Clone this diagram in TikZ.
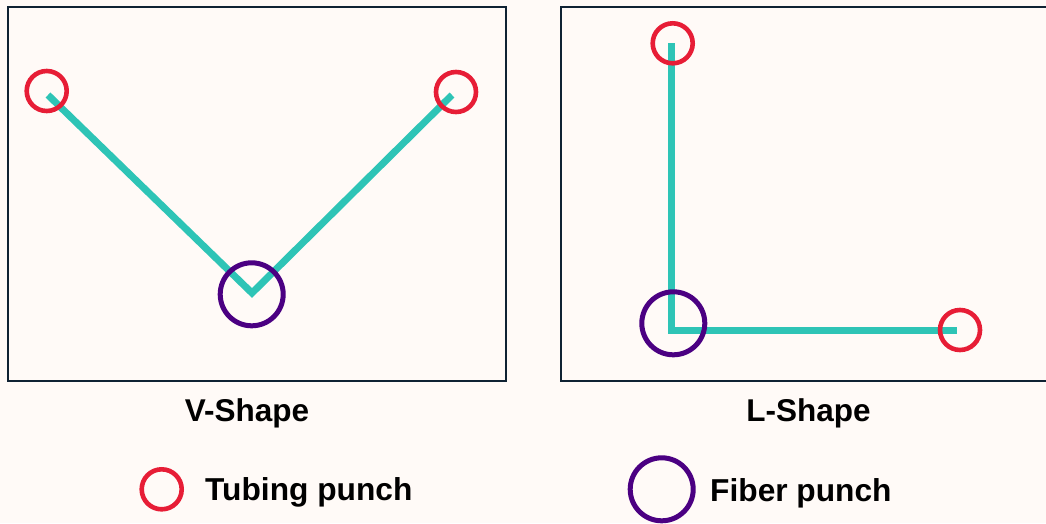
\documentclass[tikz,border=0pt]{standalone}
\usepackage{fontspec}
\setmainfont{Liberation Sans}
\definecolor{bgc}{HTML}{FFFAF7}
\definecolor{framec}{HTML}{0F2233}
\definecolor{tealc}{HTML}{2EC4B6}
\definecolor{redc}{HTML}{E71D36}
\definecolor{purc}{HTML}{4B0082}
\tikzset{
  frame/.style={draw=framec, line width=2pt},
  wire/.style={draw=tealc, line width=7pt, line cap=butt, line join=miter},
  tubing/.style={circle, draw=redc, line width=4.6pt, inner sep=0pt, minimum size=40pt},
  fiber/.style={circle, draw=purc, line width=5pt, inner sep=0pt, minimum size=63pt},
  title/.style={font=\bfseries\fontsize{31.5}{35}\selectfont, text=black, anchor=base, inner sep=0pt},
  legtext/.style={font=\bfseries\fontsize{31.7}{35}\selectfont, text=black, anchor=base west, inner sep=0pt}
}
\begin{document}
\begin{tikzpicture}[x=1pt,y=-1pt]
\useasboundingbox (0,0) rectangle (1046,523);
\clip (0,0) rectangle (1046,523);
\fill[bgc] (0,0) rectangle (1046,523);
% frames
\draw[frame] (8,7) rectangle (506,381);
\draw[frame] (560.5,7) rectangle (1056,381);
% V-shape points
\coordinate (vl) at (48,95);
\coordinate (vb) at (252,293);
\coordinate (vr) at (452,95);
\draw[wire] (vl) -- (vb) -- (vr);
\node[tubing] (vlc) at (46.7,91) {};
\node[tubing] (vrc) at (456,92) {};
\node[fiber] (vbc) at (251.7,294.3) {};
% L-shape points
\coordinate (lt) at (671.5,43.3);
\coordinate (lc) at (671.5,330);
\coordinate (lr) at (956.7,330);
\draw[wire] (lt) -- (lc) -- (lr);
\node[tubing] (ltc) at (672.7,43.3) {};
\node[tubing] (lrc) at (960,330) {};
\node[fiber] (lcc) at (673.3,323.3) {};
% titles
\node[title] (vtitle) at (247,421) {V-Shape};
\node[title] (ltitle) at (808.5,421) {L-Shape};
% legend
\node[tubing] (legt) at (161.7,489.3) {};
\node[legtext] (legtt) at (205,500) {Tubing punch};
\node[fiber] (legf) at (661.7,489.3) {};
\node[legtext] (legft) at (710,501) {Fiber punch};
\end{tikzpicture}
\end{document}
